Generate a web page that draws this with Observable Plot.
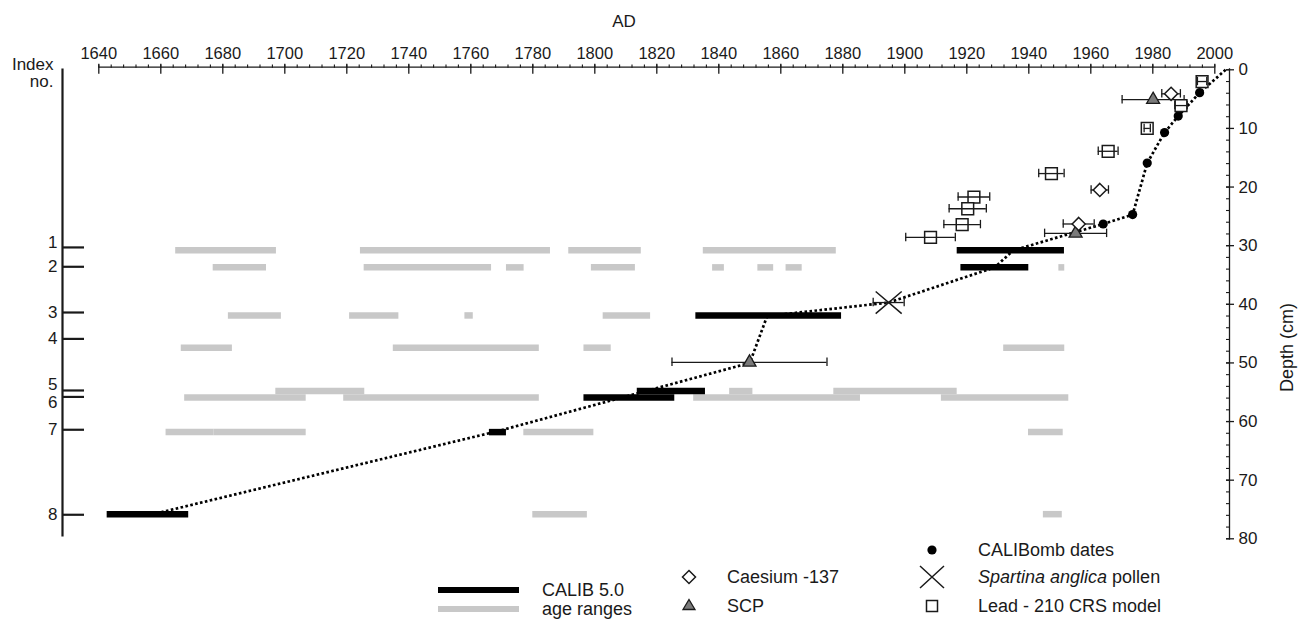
<!DOCTYPE html>
<html><head><meta charset="utf-8">
<script src="https://cdn.jsdelivr.net/npm/d3@7"></script>
<script src="https://cdn.jsdelivr.net/npm/@observablehq/plot@0.6"></script>
<style>
body{margin:0;background:#fff;font-family:"Liberation Sans",Arial,sans-serif;color:#1a1a1a;}
#wrap{position:relative;width:1308px;height:623px;overflow:hidden;}
#legend{position:absolute;left:0;top:0;width:1308px;height:623px;pointer-events:none;}
.lt{position:absolute;font-size:18px;line-height:18px;white-space:nowrap;transform:translateY(-50%);}
.ls{position:absolute;}
</style></head><body><div id="wrap"><div id="chart"></div><div id="legend"></div></div>
<script>
// ---- axis ticks ----
const xDomain = [1640, 2000];
const yDomain = [0, 80];
const xTicks = [1640,1660,1680,1700,1720,1740,1760,1780,1800,1820,1840,1860,1880,1900,1920,1940,1960,1980,2000];
const xMinorTicks = [1640,1644,1648,1652,1656,1660,1664,1668,1672,1676,1680,1684,1688,1692,1696,1700,1704,1708,1712,1716,1720,1724,1728,1732,1736,1740,1744,1748,1752,1756,1760,1764,1768,1772,1776,1780,1784,1788,1792,1796,1800,1804,1808,1812,1816,1820,1824,1828,1832,1836,1840,1844,1848,1852,1856,1860,1864,1868,1872,1876,1880,1884,1888,1892,1896,1900,1904,1908,1912,1916,1920,1924,1928,1932,1936,1940,1944,1948,1952,1956,1960,1964,1968,1972,1976,1980,1984,1988,1992,1996,2000];
const depthTicks = [0,10,20,30,40,50,60,70,80];
const depthMinorTicks = [0,2,4,6,8,10,12,14,16,18,20,22,24,26,28,30,32,34,36,38,40,42,44,46,48,50,52,54,56,58,60,62,64,66,68,70,72,74,76,78,80];
const indexLabels = ["1","2","3","4","5","6","7","8"];
const indexTickDepth = [30.3, 33.6, 41.4, 45.9, 54.7, 55.8, 61.4, 75.9];
const indexLabelDepth = [29.4, 33.6, 41.4, 45.9, 53.7, 56.7, 61.4, 75.9];
const rowDepth = [30.8, 33.7, 41.9, 47.4, 54.8, 55.9, 61.8, 75.8];

// ---- CALIB 5.0 (black) ----
const calibRow  = [1, 2, 3, 5, 6, 7, 8];
const calibFrom = [1916.9, 1918.1, 1832.6, 1813.7, 1796.5, 1766.0, 1642.7];
const calibTo   = [1951.5, 1940.0, 1879.6, 1835.7, 1825.8, 1771.5, 1669.0];

// ---- age ranges (grey) ----
const rangeRow  = [1,1,1,1, 2,2,2,2,2,2,2,2, 3,3,3,3, 4,4,4,4, 5,5,5, 6,6,6,6, 7,7,7,7, 8,8];
const rangeFrom = [1664.8,1724.4,1791.6,1835.0, 1676.9,1725.6,1771.5,1798.9,1838.0,1852.6,1861.7,1949.7, 1681.8,1720.9,1758.1,1802.7, 1666.6,1735.0,1796.5,1931.9, 1697.1,1843.5,1877.1, 1667.7,1719.0,1831.9,1911.8, 1661.7,1677.1,1777.1,1939.9, 1780.0,1944.7];
const rangeTo   = [1697.3,1785.7,1815.0,1877.9, 1694.1,1766.7,1777.2,1813.1,1841.8,1857.7,1866.9,1951.6, 1698.9,1736.8,1760.8,1818.0, 1683.1,1782.1,1805.3,1951.6, 1725.8,1851.0,1916.9, 1706.9,1782.1,1885.7,1952.9, 1677.1,1706.9,1799.7,1951.1, 1797.6,1950.8];

// ---- age-depth model (dotted) ----
const modelYear  = [2003.5, 1995.1, 1988.2, 1983.8, 1978.2, 1973.5, 1964.0, 1935.0, 1929.0, 1894.8, 1855.6, 1850.0, 1769.0, 1657.5];
const modelDepth = [0.0, 3.9, 7.9, 10.7, 15.9, 24.7, 26.3, 30.8, 33.7, 39.7, 42.0, 50.0, 61.6, 75.8];

// ---- CALIBomb dates ----
const bombYear  = [1995.1, 1988.2, 1983.8, 1978.2, 1973.5, 1964.0];
const bombDepth = [3.9, 7.9, 10.7, 15.9, 24.7, 26.3];

// ---- Lead-210 CRS model ----
const leadYear  = [1995.9, 1989.1, 1978.2, 1965.6, 1947.3, 1922.3, 1920.3, 1918.5, 1908.3];
const leadDepth = [2.0, 6.1, 10.0, 13.9, 17.7, 21.7, 23.7, 26.4, 28.6];
const leadErr   = [1.5, 2.0, 1.0, 3.2, 4.1, 5.1, 6.0, 5.9, 8.0];

// ---- Caesium-137 ----
const csYear  = [1985.9, 1962.9, 1956.1];
const csDepth = [4.1, 20.5, 26.3];
const csErr   = [3.0, 2.8, 5.0];

// ---- SCP ----
const scpYear  = [1980.1, 1955.1, 1849.9];
const scpDepth = [5.1, 27.9, 49.9];
const scpErr   = [10, 10, 25];

// ---- Spartina anglica pollen ----
const spYear  = [1894.8];
const spDepth = [39.7];
const spErr   = [5];

// ---- build tables ----
const calib = calibRow.map((r, i) => ({from: calibFrom[i], to: calibTo[i], depth: rowDepth[r - 1]}));
const ranges = rangeRow.map((r, i) => ({from: rangeFrom[i], to: rangeTo[i], depth: rowDepth[r - 1]}));
const model = modelYear.map((x, i) => ({x, y: modelDepth[i]}));
const pts = (ys, ds, es) => ys.map((x, i) => ({x, y: ds[i], e: es ? es[i] : 0}));
const bomb = pts(bombYear, bombDepth);
const lead = pts(leadYear, leadDepth, leadErr);
const cs = pts(csYear, csDepth, csErr);
const scp = pts(scpYear, scpDepth, scpErr);
const sp = pts(spYear, spDepth, spErr);
const caps = arr => arr.flatMap(d => [{x: d.x - d.e, y: d.y}, {x: d.x + d.e, y: d.y}]);
const capHalf = 0.72;

const wideX = {draw(ctx, size) { const r = Math.sqrt(size / Math.PI); const h = r * 0.85;
  ctx.moveTo(-r, -h); ctx.lineTo(r, h); ctx.moveTo(-r, h); ctx.lineTo(r, -h); }};

const ink = "#1a1a1a";
const errMarks = (arr) => [
  Plot.ruleY(arr, {x1: d => d.x - d.e, x2: d => d.x + d.e, y: "y", stroke: ink, strokeWidth: 1.3}),
  Plot.ruleX(caps(arr), {x: "x", y1: d => d.y - capHalf, y2: d => d.y + capHalf, stroke: ink, strokeWidth: 1.3})
];

const chart = Plot.plot({
  width: 1308, height: 546,
  marginLeft: 62, marginRight: 79, marginTop: 66.7, marginBottom: 7.7,
  x: {domain: xDomain, insetLeft: 36.3, insetRight: 14.7, label: null},
  y: {domain: yDomain, reverse: true, insetTop: 2.6, label: null},
  style: {fontFamily: "'Liberation Sans', Arial, sans-serif", fontSize: "17px", color: ink, background: "transparent", overflow: "visible"},
  marks: [
    Plot.ruleY(ranges, {x1: "from", x2: "to", y: "depth", stroke: "#c8c8c8", strokeWidth: 6.5}),
    Plot.ruleY(calib, {x1: "from", x2: "to", y: "depth", stroke: "#000", strokeWidth: 6.5}),
    Plot.line(model, {x: "x", y: "y", stroke: "#000", strokeWidth: 2.7, strokeDasharray: "2.6 2.4", strokeLinecap: "butt", strokeLinejoin: "miter"}),
    ...errMarks(scp), ...errMarks(cs), ...errMarks(sp),
    Plot.dot(bomb, {x: "x", y: "y", r: 4.6, fill: "#000", stroke: "none"}),
    Plot.dot(scp, {x: "x", y: "y", symbol: "triangle2", r: 6.2, fill: "#7a7a7a", stroke: ink, strokeWidth: 1.3}),
    Plot.dot(cs, {x: "x", y: "y", symbol: "diamond2", r: 5.9, fill: "#fff", stroke: ink, strokeWidth: 1.5}),
    Plot.dot(lead, {x: "x", y: "y", symbol: "square2", r: 7.5, fill: "#fff", stroke: ink, strokeWidth: 1.5}),
    ...errMarks(lead),
    Plot.dot(sp, {x: "x", y: "y", symbol: wideX, r: 13, fill: "none", stroke: ink, strokeWidth: 1.5}),
    // axes
    Plot.frame({anchor: "left", stroke: ink, strokeWidth: 2.2, insetTop: 2.3, insetBottom: 3.3}),
    Plot.frame({anchor: "right", stroke: ink, strokeWidth: 1.3, insetTop: 1.6}),
    Plot.ruleY([0], {x1: xDomain[0], x2: xDomain[1], dy: -2.6, stroke: ink, strokeWidth: 1.3}),
    Plot.axisX(xTicks, {anchor: "top", tickSize: 4, tickPadding: 4, tickFormat: d => String(d), stroke: ink, strokeWidth: 1.3, fontSize: 16.5}),
    Plot.axisX(xTicks, {anchor: "top", tickSize: -6, tickFormat: () => "", stroke: ink, strokeWidth: 1.3}),
    Plot.axisX(xMinorTicks, {anchor: "top", tickSize: 3.3, tickFormat: () => "", stroke: ink, strokeWidth: 1.1}),
    Plot.axisY(depthTicks, {anchor: "right", tickSize: 4, tickPadding: 5, tickFormat: d => String(d), stroke: ink, strokeWidth: 1.3, fontSize: 17}),
    Plot.axisY(depthTicks, {anchor: "right", tickSize: -4, tickFormat: () => "", stroke: ink, strokeWidth: 1.3}),
    Plot.axisY(depthMinorTicks, {anchor: "right", tickSize: -4, tickFormat: () => "", stroke: ink, strokeWidth: 1.1}),
    Plot.axisY(indexTickDepth, {anchor: "left", tickSize: -22, tickFormat: () => "", stroke: ink, strokeWidth: 2.2}),
    Plot.text(indexLabelDepth, {y: d => d, frameAnchor: "left", text: (d, i) => indexLabels[i], textAnchor: "end", dx: -5, fontSize: 17, fill: ink}),
    Plot.text(["AD"], {frameAnchor: "top", dx: -22, dy: -52, fontSize: 17, fill: ink}),
    Plot.text(["Index\nno."], {frameAnchor: "top-left", textAnchor: "end", lineAnchor: "middle", dx: -9, dy: 6, fontSize: 17, lineHeight: 1.0, fill: ink}),
    Plot.text(["Depth (cm)"], {frameAnchor: "right", rotate: -90, dx: 58, fontSize: 18, fill: ink})
  ]
});
document.getElementById("chart").appendChild(chart);

// ---- legend (HTML) ----
const legendItems = [
  {kind: "bar", color: "#000", x: 438, y: 590, label: "CALIB 5.0"},
  {kind: "bar", color: "#c8c8c8", x: 438, y: 609, label: "age ranges"},
  {kind: "diamond", x: 689, y: 577, label: "Caesium -137"},
  {kind: "triangle", x: 689, y: 606, label: "SCP"},
  {kind: "dot", x: 932, y: 550, label: "CALIBomb dates"},
  {kind: "cross", x: 932, y: 577, label: "<i>Spartina anglica</i> pollen"},
  {kind: "square", x: 932, y: 606, label: "Lead - 210 CRS model"}
];
const lg = document.getElementById("legend");
for (const it of legendItems) {
  const s = document.createElement("div");
  s.className = "ls";
  let textLeft;
  if (it.kind === "bar") {
    s.style.left = it.x + "px"; s.style.top = (it.y - 3.25) + "px";
    s.style.width = "81px"; s.style.height = "6.5px"; s.style.background = it.color;
    textLeft = it.x + 104;
  } else {
    s.style.left = (it.x - 15) + "px"; s.style.top = (it.y - 15) + "px";
    let inner = "";
    if (it.kind === "diamond") inner = '<path d="M15 8.5 L21.5 15 L15 21.5 L8.5 15Z" fill="#fff" stroke="#1a1a1a" stroke-width="1.5"/>';
    if (it.kind === "triangle") inner = '<path d="M15 8.5 L21 18.5 L9 18.5Z" fill="#7a7a7a" stroke="#1a1a1a" stroke-width="1.3"/>';
    if (it.kind === "dot") inner = '<circle cx="15" cy="15" r="4.6" fill="#000"/>';
    if (it.kind === "cross") inner = '<path d="M3 4 L27 26 M3 26 L27 4" stroke="#1a1a1a" stroke-width="1.5" fill="none"/>';
    if (it.kind === "square") inner = '<rect x="9.5" y="9.5" width="11" height="11" fill="#fff" stroke="#1a1a1a" stroke-width="1.5"/>';
    s.innerHTML = '<svg width="30" height="30">' + inner + '</svg>';
    textLeft = it.x + (it.kind === "diamond" || it.kind === "triangle" ? 38 : 46);
  }
  lg.appendChild(s);
  const t = document.createElement("div");
  t.className = "lt"; t.style.left = textLeft + "px"; t.style.top = it.y + "px";
  t.innerHTML = it.label;
  lg.appendChild(t);
}
</script></body></html>
